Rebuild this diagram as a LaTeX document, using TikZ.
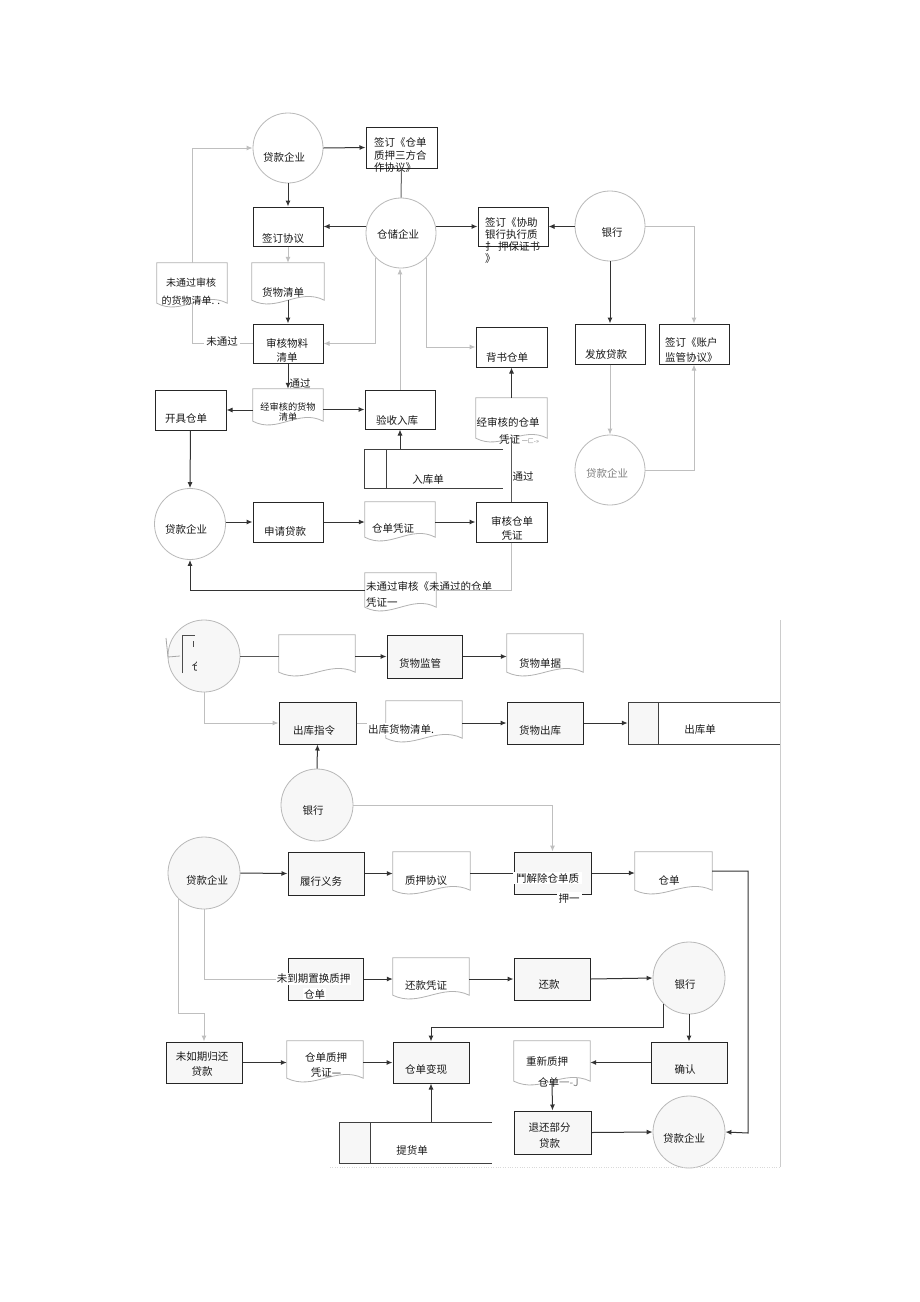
\documentclass[tikz,border=0pt]{standalone}
\usepackage{fontspec}
\newfontfamily\cjk{Noto Sans CJK SC}
\usetikzlibrary{arrows.meta,calc}
\newcommand\cf[2]{\cjk\fontsize{#1}{#2}\selectfont}
\tikzset{
 box/.style={rectangle, draw=black!85, line width=1pt, inner sep=0, fill=white},
 boxf/.style={box, fill=gray!6},
 circ/.style={circle, draw=gray!55, line width=0.8pt, inner sep=0, fill=white},
 circf/.style={circ, fill=gray!6},
 hold/.style={rectangle, inner sep=0},
 docline/.style={draw=gray!60, line width=0.8pt, fill=white},
 storeline/.style={draw=black!75, line width=1pt},
 txt/.style={font=\cf{10.5}{12.5}, inner sep=0, align=center, text=black!90},
 ltxt/.style={txt, align=left},
 arr/.style={-{Latex[length=6pt,width=5pt]}, line width=1pt, draw=black!80},
 garr/.style={arr, draw=gray!50},
 ln/.style={line width=1pt, draw=black!80},
 gln/.style={ln, draw=gray!50},
}
% document shape: name, x, y, w, h
\newcommand\docshape[5]{%
  \node[hold, minimum width=#4, minimum height=#5] (#1) at (#2,#3) {};
  \path[docline] (#1.south west) -- (#1.north west) -- (#1.north east) -- (#1.south east)
    .. controls +({-0.35*#4},-13) and +({0.35*#4},13) .. (#1.south west) -- cycle;
}
% data store: name, x1, y1, x2, y2, inner x, fill of first part
\newcommand\store[7]{%
  \node[hold, minimum width={#4-#2}, minimum height={#5-#3}] (#1) at ({(#2+#4)/2},{(#3+#5)/2}) {};
  \fill[#7] (#2,#3) rectangle (#6,#5);
  \draw[storeline] (#4,#3) -- (#2,#3) -- (#2,#5) -- (#4,#5);
  \draw[storeline] (#6,#3) -- (#6,#5);
}
\begin{document}
\begin{tikzpicture}[x=1pt,y=-1pt]
\fill[white] (0,0) rectangle (920,1302);
\useasboundingbox (0,0) rectangle (920,1302);

% ---------------- Section 1 ----------------
\node[circ, minimum size=70] (c1) at (288,148) {};
\node[txt] (c1t) at (284,157) {贷款企业};
\node[box, minimum width=71, minimum height=41] (b1) at (401.5,147.5) {};
\node[ltxt, anchor=north west, font=\cf{10.5}{12.5}] (b1t) at (374,137.5) {签订《仓单\\质押三方合\\作协议》};
\node[circ, minimum size=70] (c2) at (401,233) {};
\node[txt] (c2t) at (398,234) {仓储企业};
\node[box, minimum width=70, minimum height=39] (b2) at (288,226.5) {};
\node[txt] (b2t) at (283,239) {签订协议};
\docshape{d1}{288}{281.5}{72}{37}
\node[txt] (d1t) at (283,292) {货物清单};
\docshape{d0}{192}{283}{70}{40}
\node[txt, font=\cf{10}{18}] (d0t) at (191,292) {未通过审核\\的货物清单. .};
\node[box, minimum width=70, minimum height=39] (b3) at (288,343.5) {};
\node[txt, font=\cf{10.5}{14}] (b3t) at (287,350) {审核物料\\清单};
\node[txt] (l2) at (300,383) {通过};
\docshape{d2}{288}{405}{70}{32}
\node[txt, font=\cf{9.2}{10.5}] (d2t) at (288,412) {经审核的货物\\清单};
\node[box, minimum width=71, minimum height=40] (b4) at (190.5,410) {};
\node[txt] (b4t) at (186,419) {开具仓单};
\node[box, minimum width=70, minimum height=39] (b5) at (400,409.5) {};
\node[txt] (b5t) at (397,420) {验收入库};
\node[box, minimum width=71, minimum height=40] (b6) at (511.5,347) {};
\node[txt] (b6t) at (507,358) {背书仓单};
\store{s1}{364}{449}{503}{488}{386}{white}
\node[txt] (s1t) at (428,480) {入库单};
\docshape{d3}{511.5}{418}{71}{40}
\node[txt] (d3t) at (508,422) {经审核的仓单};
\node[txt, anchor=west] (d3u) at (499,439) {凭证\,{\fontsize{6}{7}\selectfont\color{gray}一匚-»}};
\node[txt] (l3) at (523,476) {通过};
\node[box, minimum width=71, minimum height=40] (b7) at (511.5,522) {};
\node[txt, font=\cf{10.5}{14}] (b7t) at (512,528) {审核仓单\\凭证};
\node[circ, minimum size=71] (c3) at (190,524) {};
\node[txt] (c3t) at (186,529) {贷款企业};
\node[box, minimum width=70, minimum height=40] (b8) at (288,522) {};
\node[txt] (b8t) at (285,532) {申请贷款};
\docshape{d4}{400}{519.5}{70}{35}
\node[txt] (d4t) at (393,528) {仓单凭证};
\docshape{d5}{400.5}{590}{71}{34}
\node[ltxt, anchor=north west, font=\cf{10.5}{16}] (d5t) at (366,581) {未通过审核《未通过的仓单\\凭证一};

\node[box, minimum width=70, minimum height=39] (b9) at (513,226.5) {};
\node[ltxt, anchor=north west, font=\cf{10.5}{12}] (b9t) at (485,217.5) {签订《协助\\银行执行质\\扌 押保证书\\》};
\node[circ, minimum size=70] (c4) at (610,226) {};
\node[txt] (c4t) at (612,233) {银行};
\node[box, minimum width=70, minimum height=40] (b11) at (610,344) {};
\node[txt] (b11t) at (606,354) {发放贷款};
\node[box, minimum width=70, minimum height=40] (b10) at (694,344) {};
\node[ltxt, anchor=west, font=\cf{10.5}{15}] (b10t) at (665,350.5) {签订《账户\\监管协议》};
\node[circ, minimum size=70] (c5) at (610,470) {};
\node[txt, text=gray] (c5t) at (607,473) {贷款企业};

% connectors section 1
\draw[arr] (c1.east) -- (b1.west);
\draw[ln, draw=black!60] (b1.south) -- (c2.north);
\draw[arr] (c1.south) -- (b2.north);
\draw[arr] (b2.east -| c2.west) -- (b2.east);
\draw[garr] (b2.south) -- (d1.north);
\draw[arr] (d1.south) -- (b3.north);
\draw[gln] (b3.west) -| (d0.south);
\draw[garr] (d0.north) |- (c1.west);
\draw[garr] (c2.south west) |- (b3.east);
\draw[garr] (c2.south east) |- (b6.west);
\draw[garr] (b5.north) -- (b5.north |- c2.south);
\draw[arr] (b9.west -| c2.east) -- (b9.west);
\draw[arr] (b9.east -| c4.west) -- (b9.east);
\draw[garr] (c4.east) -| (b10.north);
\draw[arr] (c4.south) -- (b11.north);
\draw[garr] (b11.south) -- (c5.north);
\draw[garr] (c5.east) -| (b10.south);
\draw[arr] (b3.south) -- (d2.north);
\draw[arr] (b4.east -| d2.west) -- (b4.east);
\draw[arr] (b5.west -| d2.east) -- (b5.west);
\draw[arr] (b4.south) -- (c3.north);
\draw[arr] (b5.south |- s1.north) -- (b5.south);
\draw[ln, draw=black!65] (b7.north) -- (d3.south);
\draw[arr] (d3.north) -- (b6.south);
\draw[arr] (b8.west -| c3.east) -- (b8.west);
\draw[arr] (b8.east) -- (b8.east -| d4.west);
\draw[arr] (b7.west -| d4.east) -- (b7.west);
\draw[gln] (b7.south) |- (d5.east);
\draw[arr] (d5.west) -| (c3.south);

% ---------------- Section 2 ----------------
\draw[gray!40, line width=0.8pt] (780,620) -- (780,1167);
\node[circf, minimum size=72] (c6) at (204,656) {};
\draw[line width=0.9pt, black!70] (182,673) -- (182,635) -- (195,635);
\draw[line width=0.8pt, gray!70] (166,638) -- (168,657) -- (180,656);
\draw[line width=0.7pt, black!70] (193,641) -- (193,647);
\begin{scope}
\clip (183,650) rectangle (196,680);
\node[txt] (c6t) at (197,666) {仓};
\end{scope}
\docshape{d6}{317}{653.5}{76}{37}
\node[boxf, minimum width=75, minimum height=43] (b12) at (424.5,656.5) {};
\node[txt] (b12t) at (420,663) {货物监管};
\docshape{d7}{545}{653}{76}{38}
\node[txt] (d7t) at (540,663) {货物单据};
\node[boxf, minimum width=77, minimum height=42] (b13) at (317.5,723) {};
\node[txt] (b13t) at (314,731) {出库指令};
\docshape{d8}{424}{719.5}{76}{37}
\node[boxf, minimum width=76, minimum height=42] (b14) at (545,723) {};
\node[txt] (b14t) at (540,730) {货物出库};
\store{s2}{628}{702}{780}{744}{658}{gray!6}
\node[txt] (s2t) at (700,730) {出库单};
\node[circf, minimum size=72] (c7) at (317,805) {};
\node[txt] (c7t) at (313,811) {银行};

% ---------------- Section 3 ----------------
\node[circf, minimum size=72] (c8) at (204,873) {};
\node[txt] (c8t) at (207,880) {贷款企业};
\node[boxf, minimum width=76, minimum height=43] (b16) at (326,873.5) {};
\node[txt] (b16t) at (321,881) {履行义务};
\docshape{d9}{431.5}{871}{77}{38}
\node[txt] (d9t) at (426,881) {质押协议};
\node[boxf, minimum width=77, minimum height=42] (b15) at (552.5,873) {};
\docshape{d10}{673.5}{871}{77}{38}
\node[txt] (d10t) at (669,880) {仓单};
\coordinate (rt) at (748,1133);
\node[boxf, minimum width=75, minimum height=42] (b17) at (325.5,979) {};
\docshape{d12}{431}{976.5}{76}{37}
\node[txt] (d12t) at (426,985) {还款凭证};
\node[boxf, minimum width=76, minimum height=42] (b20) at (552,979) {};
\node[txt] (b20t) at (549,985) {还款};
\node[circf, minimum size=72] (c9) at (689,978) {};
\node[txt] (c9t) at (685,985) {银行};
\node[boxf, minimum width=76, minimum height=41] (b21) at (689,1062.5) {};
\node[txt] (b21t) at (685,1069) {确认};
\docshape{d13}{552}{1061}{76}{40}
\node[txt] (d13t) at (547,1061) {重新质押};
\node[txt, anchor=west] (d13u) at (538,1082) {仓单{\color{gray}一-J}};
\node[boxf, minimum width=77, minimum height=43] (b22) at (552.5,1132.5) {};
\node[txt, font=\cf{10.5}{16}] (b22t) at (549.5,1135) {退还部分\\贷款};
\node[circf, minimum size=72] (c12) at (689,1132) {};
\node[txt] (c12t) at (684,1138) {贷款企业};
\node[boxf, minimum width=76, minimum height=41] (b18) at (204,1062.5) {};
\node[txt, font=\cf{10.5}{15}] (b18t) at (202,1064.5) {未如期归还\\贷款};
\docshape{d11}{325}{1059.5}{76}{37}
\node[txt, font=\cf{10.5}{15}] (d11t) at (326,1064.5) {仓单质押\\凭证—};
\node[boxf, minimum width=76, minimum height=41] (b19) at (431,1062.5) {};
\node[txt] (b19t) at (426,1069) {仓单变现};
\store{s3}{339}{1122}{492}{1163}{370}{gray!6}
\node[txt] (s3t) at (412,1150) {提货单};
\coordinate (jog) at (204,1013);
\coordinate (jog2) at (431,1027);
\draw[gray!30, dotted] (330,1167) -- (780,1167);

% connectors sections 2 and 3
\draw[ln, draw=black!65] (c6.east) -- (c6.east -| d6.west);
\draw[arr] (b12.west -| d6.east) -- (b12.west);
\draw[arr] (b12.east) -- (b12.east -| d7.west);
\draw[garr] (c6.south) |- (b13.west);
\draw[gln] (b13.east) -- (b13.east -| d8.west);
\draw[arr] (b14.west -| d8.east) -- (b14.west);
\draw[arr] (b14.east) -- (b14.east -| s2.west);
\draw[arr] (c7.north) -- (b13.south);
\draw[garr] (c7.east) -| (b15.north);

\draw[arr] (c8.east) -- (b16.west);
\draw[arr] (b16.east) -- (b16.east -| d9.west);
\draw[ln] (b15.west -| d9.east) -- (b15.west);
\draw[arr] (b15.east) -- (b15.east -| d10.west);
\draw[arr] (d10.east) -| (rt) -- (c12.east);
\draw[gln] (c8.south) |- (b17.west);
\draw[garr] (c8.south west) |- (jog) -- (b18.north);
\draw[arr] (b17.east) -- (b17.east -| d12.west);
\draw[arr] (b20.west -| d12.east) -- (b20.west);
\draw[arr] (b20.east) -- (c9.west);
\draw[arr] (c9.south west) |- (jog2) -- (b19.north);
\draw[arr] (c9.south) -- (b21.north);
\draw[arr] (b21.west) -- (b21.west -| d13.east);
\draw[arr] (d13.south) -- (b22.north);
\draw[arr] (b22.east) -- (c12.west);
\draw[arr] (b18.east) -- (b18.east -| d11.west);
\draw[arr] (b19.west -| d11.east) -- (b19.west);
\draw[arr] (b19.south |- s3.north) -- (b19.south);

% labels with white backing, over the lines
\node[txt, fill=white, inner xsep=2] (l1) at (222,342) {未通过};
\node[txt, fill=white, inner sep=1] (d8t) at (401,729) {出库货物清单.};
\node[txt, fill=white, inner xsep=3, inner ysep=1] (b15t) at (547.5,878) {鬥解除仓单质};
\node[txt, fill=white, inner xsep=2, inner ysep=1] (b15u) at (569,898) {押一};
\node[txt, fill=white, inner sep=1] (b17t) at (313.5,979) {未到期置换质押};
\node[txt, fill=white, inner sep=1] (b17u) at (314.5,994) {仓单};
\end{tikzpicture}
\end{document}
